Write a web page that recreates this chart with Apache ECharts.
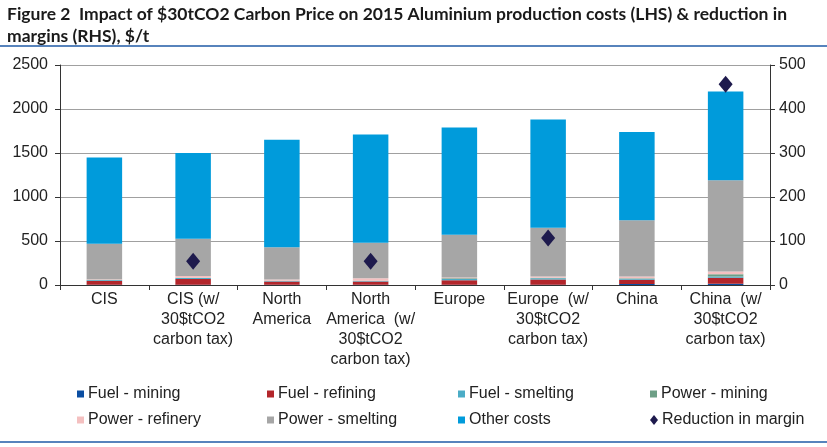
<!DOCTYPE html>
<html>
<head>
<meta charset="utf-8">
<script src="https://cdn.jsdelivr.net/npm/echarts@6/dist/echarts.min.js"></script>
<style>
  html, body { margin: 0; padding: 0; background: #fff; }
  #chart { width: 827px; height: 447px; }
</style>
</head>
<body>
<div id="chart"></div>
<script>
// chart data ($/t)
var categories = [
  'CIS', 'CIS (w/\n30$tCO2\ncarbon tax)', 'North\nAmerica',
  'North\nAmerica  (w/\n30$tCO2\ncarbon tax)', 'Europe',
  'Europe  (w/\n30$tCO2\ncarbon tax)', 'China', 'China  (w/\n30$tCO2\ncarbon tax)'
];
var fuelMining    = [3, 3, 2, 2, 3, 3, 10, 15];
var fuelRefining  = [45, 65, 38, 38, 50, 60, 50, 68];
var fuelSmelting  = [10, 12, 5, 6, 15, 15, 12, 15];
var powerMining   = [3, 3, 2, 2, 8, 5, 5, 25];
var powerRefinery = [5, 20, 15, 28, 10, 15, 20, 30];
var powerSmelting = [404, 422, 368, 404, 484, 552, 638, 1037];
var otherCosts    = [980, 975, 1220, 1230, 1220, 1230, 1005, 1010];
var marginCut     = [null, 54, null, 54, null, 107, null, 456];

var leftTicks = [0, 500, 1000, 1500, 2000, 2500];
var rightTicks = [0, 100, 200, 300, 400, 500];

var chart = echarts.init(document.getElementById('chart'));

var labelFont = '"Liberation Sans", Arial, sans-serif';

function bar(name, data, color) {
  return {
    name: name,
    type: 'bar',
    stack: 'cost',
    data: data,
    barCategoryGap: '60%',
    itemStyle: { color: color },
    emphasis: { disabled: true }
  };
}

// legend laid out as a 4x2 grid, one legend per item
var legendItems = [
  ['Fuel - mining', 72, 381, 'rect'],
  ['Fuel - refining', 262, 381, 'rect'],
  ['Fuel - smelting', 453, 381, 'rect'],
  ['Power - mining', 645, 381, 'rect'],
  ['Power - refinery', 72, 407, 'rect'],
  ['Power - smelting', 262, 407, 'rect'],
  ['Other costs', 453, 407, 'rect'],
  ['Reduction in margin', 645, 407, 'diamond']
];
var legends = legendItems.map(function (it) {
  return {
    data: [{ name: it[0], icon: it[3] }],
    left: it[1],
    top: it[2],
    itemWidth: it[3] === 'diamond' ? 8 : 7,
    itemHeight: it[3] === 'diamond' ? 10 : 7,
    itemGap: 3,
    selectedMode: false,
    itemStyle: { opacity: 1 },
    textStyle: { fontFamily: labelFont, fontSize: 16, color: '#222', padding: [0, 0, 0, -1] }
  };
});

var option = {
  animation: false,
  backgroundColor: '#fff',
  title: {
    text: 'Figure 2  Impact of $30tCO2 Carbon Price on 2015 Aluminium production costs (LHS) & reduction in\nmargins (RHS), $/t',
    left: 2,
    top: -2,
    textStyle: {
      fontFamily: 'Lato, "Open Sans", sans-serif',
      fontWeight: 'bold',
      fontSize: 17.5,
      lineHeight: 22,
      color: '#1a1a1a'
    }
  },
  graphic: [
    { type: 'line', shape: { x1: 0, y1: 46, x2: 827, y2: 46 }, style: { stroke: '#1F5AA6', lineWidth: 1.5 } },
    { type: 'line', shape: { x1: 0, y1: 442, x2: 827, y2: 442 }, style: { stroke: '#1F5AA6', lineWidth: 1.5 } }
  ],
  legend: legends,
  grid: { left: 60, right: 57, top: 65, bottom: 162 },
  xAxis: {
    type: 'category',
    data: categories,
    axisLine: { lineStyle: { color: '#333' } },
    axisTick: { show: true, alignWithLabel: false, length: 5, lineStyle: { color: '#333' } },
    axisLabel: {
      interval: 0,
      margin: 5,
      fontFamily: labelFont,
      fontSize: 16,
      lineHeight: 20,
      color: '#222'
    }
  },
  yAxis: [
    {
      type: 'value',
      min: leftTicks[0],
      max: leftTicks[leftTicks.length - 1],
      interval: 500,
      axisLine: { show: true, lineStyle: { color: '#333' } },
      axisTick: { show: true, length: 5, lineStyle: { color: '#333' } },
      splitLine: { show: true, lineStyle: { color: '#a0a0a0' } },
      axisLabel: {
        fontFamily: labelFont, fontSize: 16, color: '#222', margin: 12,
        formatter: function (v) { return String(v); }
      }
    },
    {
      type: 'value',
      position: 'right',
      min: rightTicks[0],
      max: rightTicks[rightTicks.length - 1],
      interval: 100,
      axisLine: { show: true, lineStyle: { color: '#333' } },
      axisTick: { show: true, length: 5, lineStyle: { color: '#333' } },
      splitLine: { show: false },
      axisLabel: {
        fontFamily: labelFont, fontSize: 16, color: '#222', margin: 9,
        formatter: function (v) { return String(v); }
      }
    }
  ],
  series: [
    bar('Fuel - mining', fuelMining, '#0B4EA2'),
    bar('Fuel - refining', fuelRefining, '#B3262B'),
    bar('Fuel - smelting', fuelSmelting, '#4BACC6'),
    bar('Power - mining', powerMining, '#6D9F86'),
    bar('Power - refinery', powerRefinery, '#F4C0C0'),
    bar('Power - smelting', powerSmelting, '#A6A6A6'),
    bar('Other costs', otherCosts, '#009BDB'),
    {
      name: 'Reduction in margin',
      type: 'scatter',
      yAxisIndex: 1,
      data: marginCut,
      symbol: 'diamond',
      symbolSize: [14, 17],
      itemStyle: { color: '#1E1A4D', opacity: 1 },
      emphasis: { disabled: true }
    }
  ]
};

chart.setOption(option);
</script>
</body>
</html>
